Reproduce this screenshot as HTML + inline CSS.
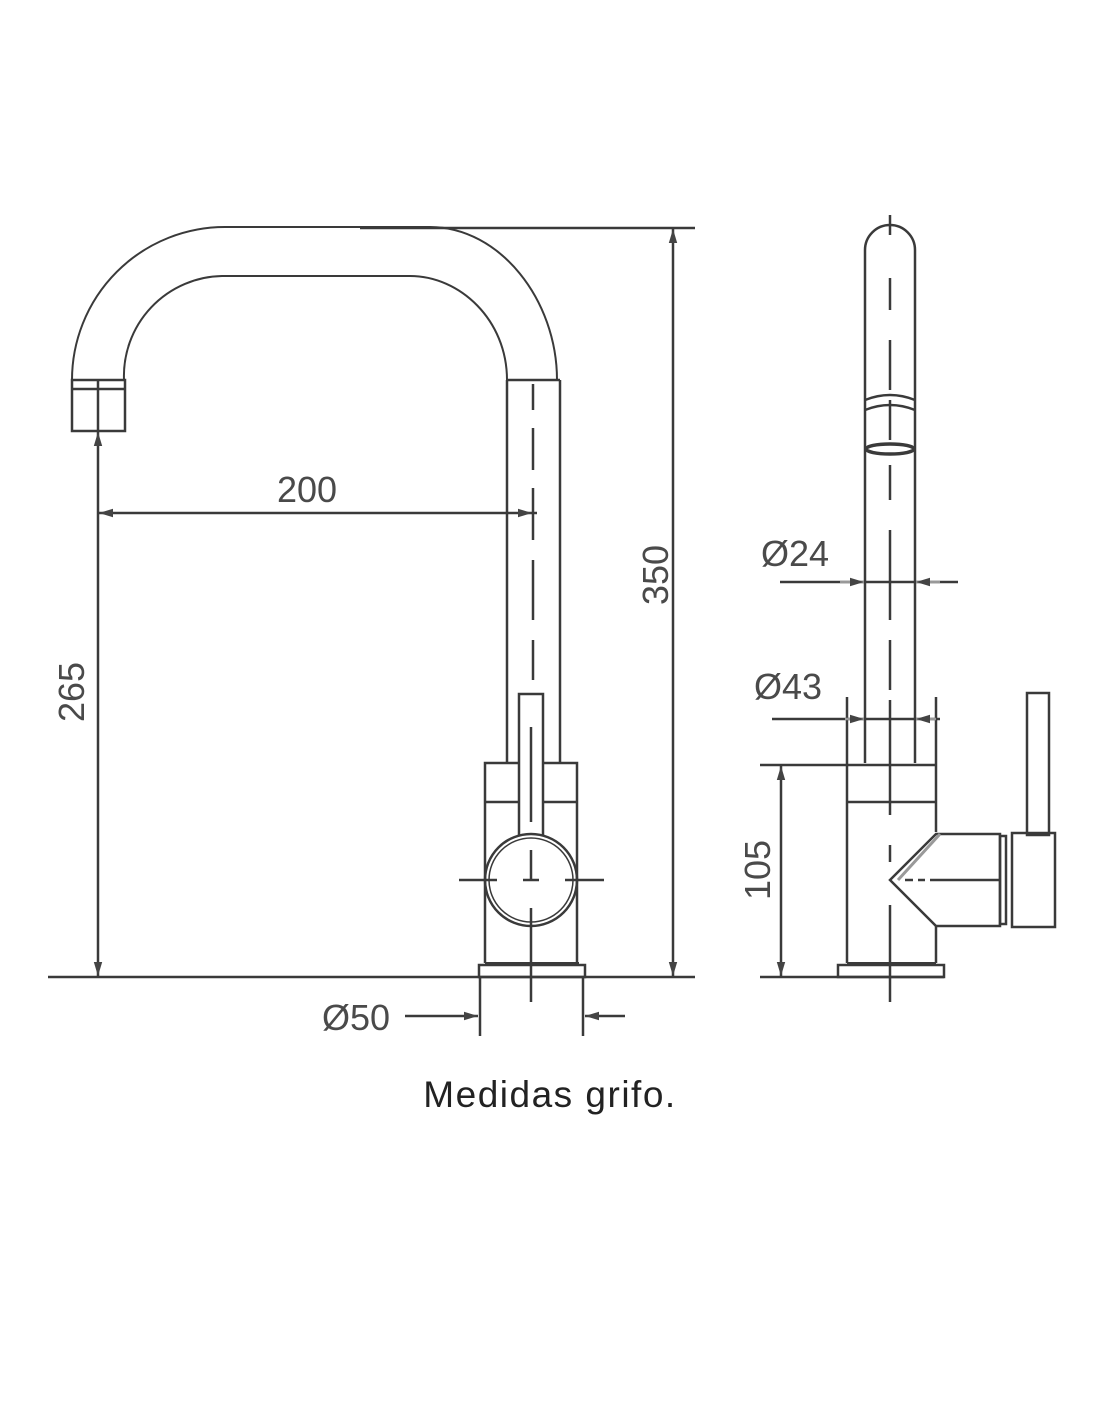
<!DOCTYPE html>
<html><head><meta charset="utf-8"><style>
html,body{margin:0;padding:0;background:#fff}
svg{display:block}
text{font-family:"Liberation Sans",sans-serif;fill:#4a4a4a}
</style></head><body>
<svg width="1100" height="1422" viewBox="0 0 1100 1422" xmlns="http://www.w3.org/2000/svg">
<defs>
<marker id="a" viewBox="0 0 10 10" refX="10" refY="5" markerWidth="14" markerHeight="14" orient="auto-start-reverse" markerUnits="userSpaceOnUse"><path d="M0,2 L10,5 L0,8 z" fill="#444"/></marker>
</defs>
<g stroke="#3a3a3a" stroke-width="2.5" fill="none">
<path d="M72,380 A153,153 0 0 1 225,227 L430,227 C500,227 557,300 557,380" stroke-width="2"/>
<path d="M124,380 A100,100 0 0 1 222,276 L410,276 C460,276 507,320 507,380" stroke-width="2"/>
<rect x="72" y="380" width="53" height="51"/>
<line x1="72" y1="389" x2="125" y2="389"/>
<line x1="98" y1="380" x2="98" y2="431"/>
<line x1="507" y1="380" x2="507" y2="763"/>
<line x1="560" y1="380" x2="560" y2="763"/>
<line x1="507" y1="380" x2="560" y2="380"/>
<path d="M533,384 V410 M533,428 V470 M533,488 V540 M533,560 V620 M533,640 V680"/>
<path d="M485,963 V763 H519 M543,763 H577 V963"/>
<line x1="485" y1="802" x2="519" y2="802"/>
<line x1="543" y1="802" x2="577" y2="802"/>
<path d="M519,835 V694 H543 V835"/>
<line x1="531" y1="727" x2="531" y2="822"/>
<circle cx="531" cy="880" r="46"/>
<circle cx="531" cy="880" r="42" stroke-width="1.5"/>
<path d="M459,880 H497 M523,880 H539 M565,880 H604 M531,850 V880 M531,908 V1002"/>
<rect x="479" y="965" width="106" height="12"/>
<line x1="485" y1="964" x2="579" y2="964" stroke-width="4"/>
<line x1="48" y1="977" x2="695" y2="977"/>
<path d="M480,977 V1036 M583,977 V1036"/>
<line x1="405" y1="1016" x2="478" y2="1016" marker-end="url(#a)"/>
<line x1="625" y1="1016" x2="585" y2="1016" marker-end="url(#a)"/>
<line x1="360" y1="228" x2="695" y2="228"/>
<line x1="673" y1="250" x2="673" y2="229" marker-end="url(#a)"/>
<line x1="673" y1="250" x2="673" y2="976" marker-end="url(#a)"/>
<line x1="98" y1="460" x2="98" y2="432" marker-end="url(#a)"/>
<line x1="98" y1="460" x2="98" y2="976" marker-end="url(#a)"/>
<line x1="130" y1="513" x2="99" y2="513" marker-end="url(#a)"/>
<line x1="130" y1="513" x2="532" y2="513" marker-end="url(#a)"/>
<line x1="532" y1="513" x2="537" y2="513"/>
<path d="M865,763 V250 A25,25 0 0 1 915,250 V763"/>
<path d="M890,215 V235 M890,278 V310 M890,340 V390 M890,400 V440 M890,465 V500 M890,530 V620 M890,640 V690 M890,700 V815 M890,845 V862 M890,905 V1002"/>
<path d="M865,400 Q890,390 915,400 M865,410 Q890,400 915,410"/>
<ellipse cx="890" cy="449" rx="24" ry="5" stroke-width="3.5"/>
<line x1="780" y1="582" x2="958" y2="582"/>
<line x1="840" y1="582" x2="864" y2="582" marker-end="url(#a)" stroke="#999"/>
<line x1="940" y1="582" x2="916" y2="582" marker-end="url(#a)" stroke="#999"/>
<line x1="772" y1="719" x2="940" y2="719"/>
<path d="M847,697 V963 M936,697 V832 M936,926 V963"/>
<line x1="845" y1="719" x2="864" y2="719" marker-end="url(#a)" stroke="#999"/>
<line x1="936" y1="719" x2="916" y2="719" marker-end="url(#a)" stroke="#999"/>
<line x1="760" y1="765" x2="936" y2="765"/>
<line x1="847" y1="802" x2="936" y2="802"/>
<line x1="781" y1="795" x2="781" y2="766" marker-end="url(#a)"/>
<line x1="781" y1="795" x2="781" y2="976" marker-end="url(#a)"/>
<line x1="760" y1="977" x2="944" y2="977"/>
<rect x="838" y="965" width="106" height="12"/>
<line x1="847" y1="964" x2="936" y2="964" stroke-width="4"/>
<path d="M936,834 L890,880 L936,926 L1000,926 V834 Z"/>
<path d="M940,834 L898,880" stroke="#999" stroke-width="3"/>
<rect x="1000" y="836" width="6" height="88"/>
<rect x="1012" y="833" width="43" height="94"/>
<rect x="1027" y="693" width="22" height="142"/>
<path d="M905,880 H913 M918,880 H925 M930,880 H1000"/>
</g>
<g font-size="36">
<text x="307" y="502" text-anchor="middle">200</text>
<text transform="translate(668,575) rotate(-90)" text-anchor="middle">350</text>
<text transform="translate(84,692) rotate(-90)" text-anchor="middle">265</text>
<text x="356" y="1030" text-anchor="middle">Ø50</text>
<text x="795" y="566" text-anchor="middle">Ø24</text>
<text x="788" y="699" text-anchor="middle">Ø43</text>
<text transform="translate(770,870) rotate(-90)" text-anchor="middle">105</text>
</g>
<text x="550" y="1107" text-anchor="middle" font-size="37" letter-spacing="1.5" style="fill:#222">Medidas grifo.</text>
</svg>
</body></html>
